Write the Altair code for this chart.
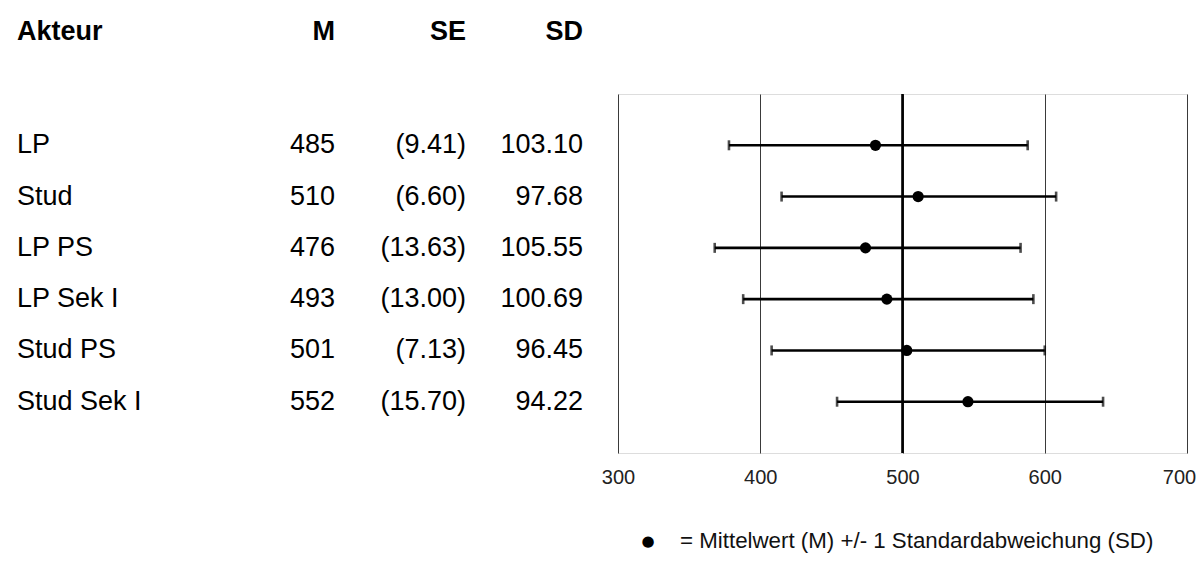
import altair as alt
import pandas as pd

# ---- data ----
actors = ["LP", "Stud", "LP PS", "LP Sek I", "Stud PS", "Stud Sek I"]
mean_table = [485, 510, 476, 493, 501, 552]
se_table = [9.41, 6.60, 13.63, 13.00, 7.13, 15.70]
sd_table = [103.10, 97.68, 105.55, 100.69, 96.45, 94.22]

# plotted positions as drawn in the figure
dot_pos = [481, 511, 474, 489, 503, 546]
bar_low = [378, 415, 368, 388, 408, 454]
bar_high = [588, 608, 583, 592, 600, 641]

x_ticks = [300, 400, 500, 600, 700]
reference_value = 500
headers = ["Akteur", "M", "SE", "SD"]
legend_text = "= Mittelwert (M) +/- 1 Standardabweichung (SD)"

df = pd.DataFrame({
    "actor": actors,
    "m": [str(v) for v in mean_table],
    "se": [f"({v:.2f})" for v in se_table],
    "sd": [f"{v:.2f}" for v in sd_table],
    "dot": dot_pos,
    "lo": bar_low,
    "hi": bar_high,
})

FONT = "Liberation Sans"
W, H = 569, 359

y_enc = alt.Y("actor:N", sort=actors, scale=alt.Scale(type="point", padding=1), axis=None)
x_scale = alt.Scale(domain=[300, 700], nice=False, zero=False)
x_axis = alt.Axis(values=x_ticks, title=None, ticks=False, domain=False, grid=True,
                  gridColor="#3a3a3a", gridWidth=1, labelFontSize=20, labelColor="#222",
                  labelPadding=14, labelFont=FONT, format="d", labelFlush=False,
                  labelOffset={"condition": {"test": "datum.value == 700", "value": -8},
                               "value": 0})

base = alt.Chart(df)

err = base.mark_rule(color="black", strokeWidth=2.6).encode(
    x=alt.X("lo:Q", scale=x_scale, axis=x_axis), x2="hi:Q", y=y_enc)
cap_lo = base.mark_tick(color="black", thickness=2.6, size=10, orient="vertical").encode(
    x=alt.X("lo:Q", scale=x_scale), y=y_enc)
cap_hi = base.mark_tick(color="black", thickness=2.6, size=10, orient="vertical").encode(
    x=alt.X("hi:Q", scale=x_scale), y=y_enc)
dots = base.mark_circle(color="black", size=125, opacity=1).encode(
    x=alt.X("dot:Q", scale=x_scale), y=y_enc)
ref = alt.Chart(pd.DataFrame({"v": [reference_value]})).mark_rule(
    color="black", strokeWidth=2.6).encode(x=alt.X("v:Q", scale=x_scale))

TXT = dict(font=FONT, fontSize=27, color="#000", baseline="middle")
col_actor = base.mark_text(align="left", **TXT).encode(
    x=alt.value(-601), y=y_enc, text="actor:N")
col_m = base.mark_text(align="right", **TXT).encode(
    x=alt.value(-283), y=y_enc, text="m:N")
col_se = base.mark_text(align="right", **TXT).encode(
    x=alt.value(-152), y=y_enc, text="se:N")
col_sd = base.mark_text(align="right", **TXT).encode(
    x=alt.value(-35), y=y_enc, text="sd:N")

HDR = dict(font=FONT, fontSize=27, fontWeight="bold", color="#000", baseline="alphabetic")
hdr_df = pd.DataFrame({"h": headers})
hdr_x = [-601, -283, -152, -35]
hdr_align = ["left", "right", "right", "right"]
hdr_layers = [
    alt.Chart(hdr_df).transform_filter(alt.datum.h == h).mark_text(align=a, **HDR).encode(
        x=alt.value(xv), y=alt.value(-54), text="h:N")
    for h, xv, a in zip(headers, hdr_x, hdr_align)
]

leg_df = pd.DataFrame({"t": [legend_text], "b": ["\u25CF"]})
leg_bullet = alt.Chart(leg_df).mark_text(font="DejaVu Sans", fontSize=15, color="black",
                                         align="center", baseline="middle").encode(
    x=alt.value(30), y=alt.value(447), text="b:N")
leg_text = alt.Chart(leg_df).mark_text(font=FONT, fontSize=22.3, color="#111",
                                       align="left", baseline="middle").encode(
    x=alt.value(62), y=alt.value(447), text="t:N")

chart = alt.layer(
    err, cap_lo, cap_hi, ref, dots,
    col_actor, col_m, col_se, col_sd, *hdr_layers, leg_bullet, leg_text
).properties(
    width=W, height=H,
    padding={"left": 610, "top": 86, "right": 9, "bottom": 104},
    autosize=alt.AutoSizeParams(type="none"),
    background="white",
).configure_view(stroke="#555", strokeWidth=2).configure(font=FONT)

chart.save("out.html", embed_options={"renderer": "svg", "actions": False})
